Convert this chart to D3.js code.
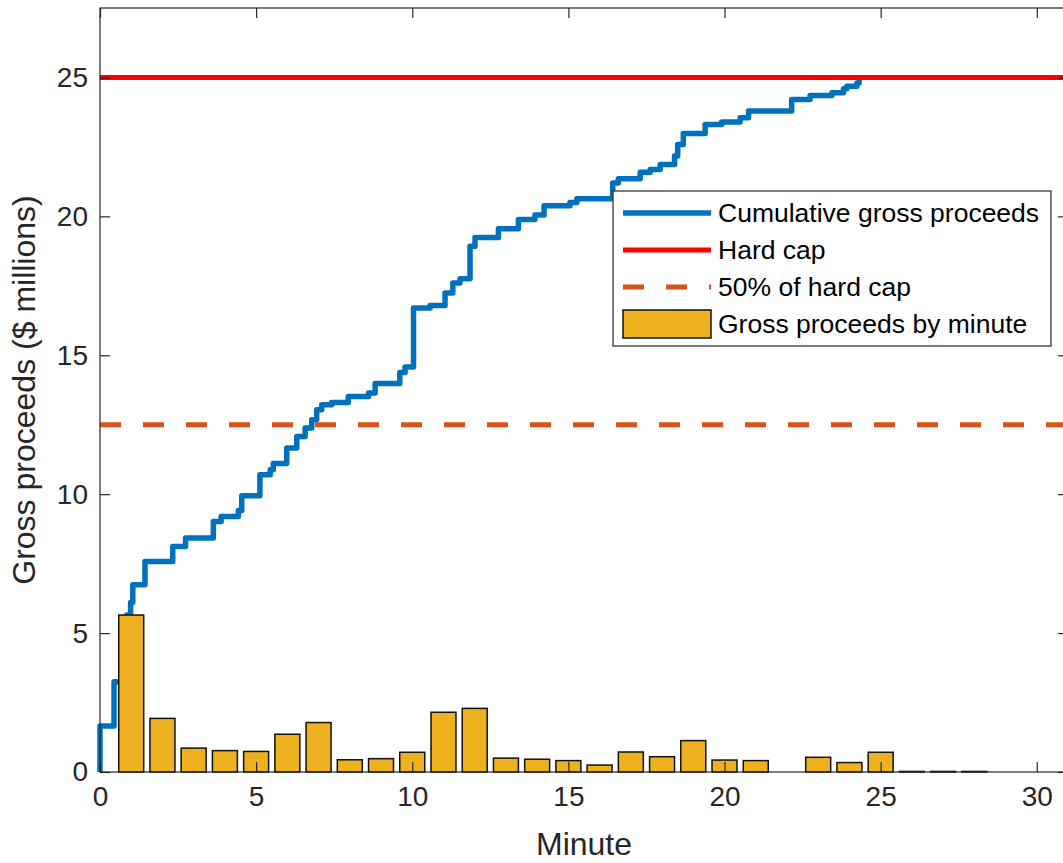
<!DOCTYPE html>
<html>
<head>
<meta charset="utf-8">
<script src="https://cdn.jsdelivr.net/npm/d3@7"></script>
<style>
  html, body { margin: 0; padding: 0; background: #fff; }
  svg { display: block; }
  text { font-family: "Liberation Sans", Arial, Helvetica, sans-serif; }
</style>
</head>
<body>
<svg id="chart" width="1063" height="863"></svg>
<script>
// ---- Data ----
const minutes = [1,2,3,4,5,6,7,8,9,10,11,12,13,14,15,16,17,18,19,20,21,22,23,24,25,26,27,28];
const proceedsByMinute = [5.65,1.93,0.86,0.77,0.74,1.36,1.78,0.44,0.48,0.71,2.15,2.29,0.50,0.46,0.41,0.25,0.72,0.55,1.13,0.43,0.41,0,0.53,0.34,0.71,0.02,0.02,0.02];

const cumTime  = [0,0,0.45,0.72,0.86,0.98,1.05,1.44,2.33,2.74,3.63,3.88,4.43,4.54,5.12,5.45,5.55,5.98,6.30,6.57,6.78,6.94,7.10,7.42,7.95,8.60,8.81,9.60,9.77,10.04,10.57,11.05,11.30,11.53,11.85,12.01,12.76,13.40,13.93,14.22,15.05,15.27,16.42,16.60,17.30,17.62,17.94,18.40,18.50,18.68,19.38,19.91,20.50,20.77,22.15,22.74,23.44,23.81,23.92,24.24,24.31];
const cumValue = [0,1.66,3.25,4.50,5.65,6.10,6.74,7.58,8.12,8.42,9.02,9.20,9.41,9.94,10.70,10.88,11.10,11.66,12.08,12.38,12.68,13.04,13.22,13.30,13.52,13.64,13.98,14.38,14.58,16.70,16.79,17.24,17.60,17.75,18.92,19.24,19.55,19.89,20.05,20.38,20.50,20.63,21.20,21.35,21.59,21.69,21.87,22.17,22.59,22.98,23.31,23.40,23.55,23.79,24.21,24.35,24.45,24.59,24.68,24.80,25.00];

const hardCap = 25;
const halfCap = 12.5;
const xTicks = [0,5,10,15,20,25,30];
const yTicks = [0,5,10,15,20,25];
const legendLabels = ["Cumulative gross proceeds","Hard cap","50% of hard cap","Gross proceeds by minute"];

// ---- Layout ----
const svg = d3.select("#chart");
const mLeft = 100, mRight = 1068, mTop = 8, mBottom = 772;
const x = d3.scaleLinear().domain([0, 31]).range([mLeft, mRight]);
const y = d3.scaleLinear().domain([0, 27.5]).range([mBottom, mTop]);
const axisColor = "#262626";
const tickFont = 28;

const plot = svg.append("g");

// cumulative step line
const cumData = cumTime.map((t, i) => [t, cumValue[i]]);
const line = d3.line().x(d => x(d[0])).y(d => y(d[1])).curve(d3.curveStepAfter);
plot.append("path").datum(cumData)
  .attr("d", line).attr("fill", "none")
  .attr("stroke", "#0072BD").attr("stroke-width", 5.5)
  .attr("stroke-linejoin", "round").attr("stroke-linecap", "butt");

// hard cap
plot.append("line")
  .attr("x1", x(0)).attr("x2", x(31)).attr("y1", y(hardCap)).attr("y2", y(hardCap))
  .attr("stroke", "#FF0000").attr("stroke-width", 5);

// 50% of hard cap
plot.append("line")
  .attr("x1", x(0)).attr("x2", x(31)).attr("y1", y(halfCap)).attr("y2", y(halfCap))
  .attr("stroke", "#D95319").attr("stroke-width", 5)
  .attr("stroke-dasharray", "21,22");

// bars
const barW = x(0.8) - x(0);
plot.selectAll("rect.bar").data(minutes.map((m, i) => [m, proceedsByMinute[i]]))
  .enter().append("rect").attr("class", "bar")
  .attr("x", d => x(d[0]) - barW / 2)
  .attr("width", barW)
  .attr("y", d => y(d[1]))
  .attr("height", d => y(0) - y(d[1]))
  .attr("fill", "#EDB120").attr("stroke", "#111").attr("stroke-width", 1.5);

// ---- Axes ----
const xAxisB = d3.axisBottom(x).tickValues(xTicks).tickSize(-10).tickPadding(14).tickFormat(d3.format("d"));
const xAxisT = d3.axisTop(x).tickValues(xTicks).tickSize(-10).tickFormat("");
const yAxisL = d3.axisLeft(y).tickValues(yTicks).tickSize(-10).tickPadding(12).tickFormat(d3.format("d"));
const yAxisR = d3.axisRight(y).tickValues(yTicks).tickSize(-10).tickFormat("");

function styleAxis(g) {
  g.select(".domain").remove();
  g.selectAll(".tick line").attr("stroke", axisColor).attr("stroke-width", 1.2);
  g.selectAll(".tick text").attr("fill", axisColor).attr("font-size", tickFont)
   .attr("font-family", "'Liberation Sans', Arial, Helvetica, sans-serif");
}
svg.append("g").attr("transform", `translate(0,${mBottom})`).call(xAxisB).call(styleAxis);
svg.append("g").attr("transform", `translate(0,${mTop})`).call(xAxisT).call(styleAxis);
svg.append("g").attr("transform", `translate(${mLeft},0)`).call(yAxisL).call(styleAxis);
svg.append("g").attr("transform", `translate(${mRight},0)`).call(yAxisR).call(styleAxis);

svg.append("rect").attr("x", mLeft).attr("y", mTop).attr("width", mRight - mLeft).attr("height", mBottom - mTop)
  .attr("fill", "none").attr("stroke", axisColor).attr("stroke-width", 1.2);

// axis labels
svg.append("text").attr("x", x(15.5)).attr("y", 855).attr("text-anchor", "middle")
  .attr("font-size", 32).attr("fill", axisColor).text("Minute");
svg.append("text").attr("transform", `translate(35,${(mTop + mBottom) / 2}) rotate(-90)`)
  .attr("text-anchor", "middle").attr("font-size", 32).attr("fill", axisColor)
  .text("Gross proceeds ($ millions)");

// ---- Legend ----
const lg = svg.append("g");
lg.append("rect").attr("x", 613).attr("y", 191).attr("width", 438).attr("height", 155)
  .attr("fill", "#fff").attr("stroke", axisColor).attr("stroke-width", 1.2);
const rowY = [213, 250, 287, 324];
const sx1 = 623, sx2 = 711;
lg.append("line").attr("x1", sx1).attr("x2", sx2).attr("y1", rowY[0]).attr("y2", rowY[0])
  .attr("stroke", "#0072BD").attr("stroke-width", 5.5);
lg.append("line").attr("x1", sx1).attr("x2", sx2).attr("y1", rowY[1]).attr("y2", rowY[1])
  .attr("stroke", "#FF0000").attr("stroke-width", 5);
lg.append("line").attr("x1", sx1).attr("x2", sx2).attr("y1", rowY[2]).attr("y2", rowY[2])
  .attr("stroke", "#D95319").attr("stroke-width", 5).attr("stroke-dasharray", "21,22");
lg.append("rect").attr("x", sx1).attr("y", rowY[3] - 14).attr("width", sx2 - sx1).attr("height", 28)
  .attr("fill", "#EDB120").attr("stroke", "#111").attr("stroke-width", 1.5);
lg.selectAll("text.lt").data(legendLabels).enter().append("text").attr("class", "lt")
  .attr("x", 718).attr("y", (d, i) => rowY[i]).attr("dy", "0.35em")
  .attr("font-size", 26.5).attr("fill", "#000").text(d => d);
</script>
</body>
</html>
